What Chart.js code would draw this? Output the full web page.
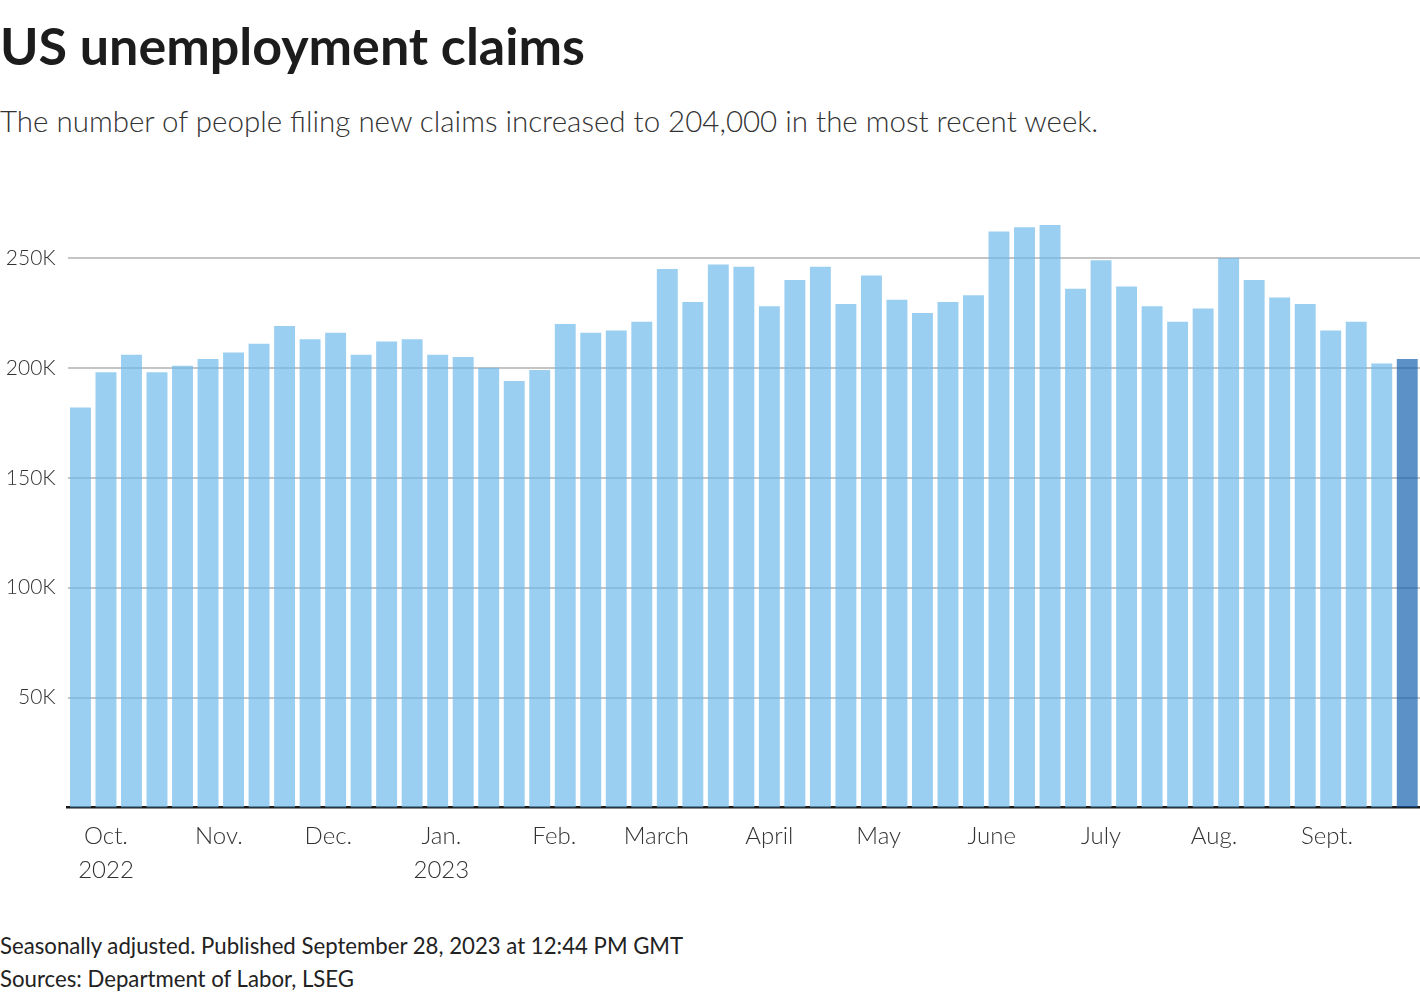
<!DOCTYPE html>
<html>
<head>
<meta charset="utf-8">
<script src="https://cdn.jsdelivr.net/npm/chart.js@4.4.0/dist/chart.umd.min.js"></script>
<style>
  body { margin: 0; background: #fff; width: 1420px; height: 1000px; overflow: hidden; position: relative; font-family: Lato, "Noto Sans", sans-serif; }
  #title { position: absolute; left: 0; top: 19px; font-size: 52px; line-height: 52px; font-weight: 700; color: #1c1c1c; white-space: nowrap; }
  #subtitle { position: absolute; left: 0; top: 106px; font-size: 29.5px; line-height: 29.5px; font-weight: 300; color: #333; white-space: nowrap; }
  #footer { position: absolute; left: 0; top: 929px; font-size: 22.2px; line-height: 33px; color: #222; white-space: nowrap; }
  #wrap { position: absolute; left: 0; top: 0; width: 1420px; height: 920px; }
</style>
</head>
<body>
<div id="title">US unemployment claims</div>
<div id="subtitle">The number of people filing new claims increased to 204,000 in the most recent week.</div>
<div id="wrap"><canvas id="claims"></canvas></div>
<div id="footer">Seasonally adjusted. Published September 28, 2023 at 12:44 PM GMT<br>Sources: Department of Labor, LSEG</div>
<script>
// week ending dates
const weeks = [
  '2022-09-24', '2022-10-01', '2022-10-08', '2022-10-15', '2022-10-22', '2022-10-29',
  '2022-11-05', '2022-11-12', '2022-11-19', '2022-11-26', '2022-12-03', '2022-12-10',
  '2022-12-17', '2022-12-24', '2022-12-31', '2023-01-07', '2023-01-14', '2023-01-21',
  '2023-01-28', '2023-02-04', '2023-02-11', '2023-02-18', '2023-02-25', '2023-03-04',
  '2023-03-11', '2023-03-18', '2023-03-25', '2023-04-01', '2023-04-08', '2023-04-15',
  '2023-04-22', '2023-04-29', '2023-05-06', '2023-05-13', '2023-05-20', '2023-05-27',
  '2023-06-03', '2023-06-10', '2023-06-17', '2023-06-24', '2023-07-01', '2023-07-08',
  '2023-07-15', '2023-07-22', '2023-07-29', '2023-08-05', '2023-08-12', '2023-08-19',
  '2023-08-26', '2023-09-02', '2023-09-09', '2023-09-16', '2023-09-23'
];

// initial claims, thousands
const claims = [
  182, 198, 206, 198, 201, 204, 207, 211, 219, 213, 216, 206,
  212, 213, 206, 205, 200, 194, 199, 220, 216, 217, 221, 245,
  230, 247, 246, 228, 240, 246, 229, 242, 231, 225, 230, 233,
  262, 264, 265, 236, 249, 237, 228, 221, 227, 250, 240, 232,
  229, 217, 221, 202, 204
];

const monthDates = [
  '2022-10-01', '2022-11-01', '2022-12-01', '2023-01-01', '2023-02-01', '2023-03-01',
  '2023-04-01', '2023-05-01', '2023-06-01', '2023-07-01', '2023-08-01', '2023-09-01'
];
const monthLabels = [
  ['Oct.', '2022'], 'Nov.', 'Dec.', ['Jan.', '2023'], 'Feb.', 'March',
  'April', 'May', 'June', 'July', 'Aug.', 'Sept.'
];

const yTicks = [50000, 100000, 150000, 200000, 250000];

const dayMs = 86400000;
const t0 = Date.parse(weeks[0]);
const dayOf = d => (Date.parse(d) - t0) / dayMs;

const points = weeks.map((w, i) => ({ x: dayOf(w), y: claims[i] * 1000 }));

new Chart(document.getElementById('claims'), {
  type: 'bar',
  data: {
    datasets: [{
      data: points,
      backgroundColor: ctx => ctx.dataIndex === claims.length - 1 ? 'rgba(22,99,174,0.7)' : 'rgba(111,186,236,0.7)',
      categoryPercentage: 1,
      barPercentage: 0.82
    }]
  },
  options: {
    responsive: true,
    maintainAspectRatio: false,
    animation: false,
    layout: { padding: { top: 214, left: 0, right: 0, bottom: 0 } },
    plugins: { legend: { display: false }, tooltip: { enabled: false } },
    scales: {
      x: {
        type: 'linear',
        offset: false,
        min: -3.5,
        max: dayOf(weeks[weeks.length - 1]) + 3.5,
        grid: { display: false },
        border: { display: true, color: '#1a1a1a', width: 2.5 },
        afterBuildTicks: scale => { scale.ticks = monthDates.map(d => ({ value: dayOf(d) })); },
        afterFit: scale => { scale.height = 112.5; },
        ticks: {
          autoSkip: false,
          maxRotation: 0,
          padding: 4,
          color: '#333',
          font: { family: 'Lato', size: 24, weight: 300, lineHeight: 1.4 },
          callback: (v, i) => monthLabels[i]
        }
      },
      y: {
        min: 0,
        max: 270000,
        afterBuildTicks: scale => { scale.ticks = yTicks.map(v => ({ value: v })); },
        afterFit: scale => { scale.width = 67.7; },
        grid: { color: '#c4c4c4', lineWidth: 2, drawTicks: false },
        border: { display: false },
        ticks: {
          padding: 12,
          color: '#333',
          font: { family: 'Lato', size: 21, weight: 300 },
          callback: v => (v / 1000) + 'K'
        }
      }
    }
  }
});
</script>
</body>
</html>
